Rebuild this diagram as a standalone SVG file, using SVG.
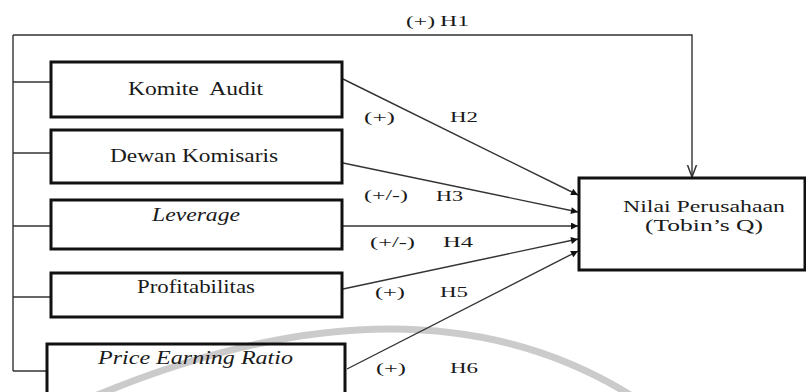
<svg xmlns="http://www.w3.org/2000/svg" width="806" height="392" viewBox="0 0 806 392">
<style>
  text { font-family: "Liberation Serif", "DejaVu Serif", "Times New Roman", serif; fill: #1a1a1a; }
  .box { fill: none; stroke: #111; stroke-width: 3; }
  .lbl { font-size: 18px; }
  .nv { font-size: 16px; }
  .h { font-size: 15px; }
  .it { font-style: italic; }
  .ln { fill: none; stroke: #333; stroke-width: 1.4; }
</style>
<defs>
  <marker id="tri" viewBox="0 0 10 10" refX="10" refY="5" markerWidth="8" markerHeight="7" markerUnits="userSpaceOnUse" orient="auto">
    <path d="M0,0 L10,5 L0,10 z" fill="#111"/>
  </marker>
  <marker id="vee" viewBox="0 0 12 10" refX="12" refY="5" markerWidth="12" markerHeight="14" markerUnits="userSpaceOnUse" orient="auto">
    <path d="M0,0.5 L12,5 L0,9.5" fill="none" stroke="#333" stroke-width="1.5"/>
  </marker>
</defs>
<path d="M 95 396 Q 417 262 632 396" fill="none" stroke="#cbcbcb" stroke-width="7"/>
<g id="connectors">
  <polyline class="ln" points="13,35 692,35 692,177" marker-end="url(#vee)"/>
  <line class="ln" x1="13" y1="35" x2="13" y2="371"/>
  <line class="ln" x1="13" y1="82" x2="51" y2="82"/>
  <line class="ln" x1="13" y1="153" x2="51" y2="153"/>
  <line class="ln" x1="13" y1="226" x2="51" y2="226"/>
  <line class="ln" x1="13" y1="297" x2="51" y2="297"/>
  <line class="ln" x1="13" y1="371" x2="47" y2="371"/>
  <line class="ln" x1="343" y1="79" x2="578" y2="195" marker-end="url(#tri)"/>
  <line class="ln" x1="343" y1="163" x2="578" y2="212" marker-end="url(#tri)"/>
  <line class="ln" x1="343" y1="226" x2="578" y2="226" marker-end="url(#tri)"/>
  <line class="ln" x1="343" y1="289" x2="578" y2="239" marker-end="url(#tri)"/>
  <line class="ln" x1="347" y1="369" x2="578" y2="251" marker-end="url(#tri)"/>
  <text class="h" x="406" y="26" textLength="29" lengthAdjust="spacingAndGlyphs">(+)</text>
  <text class="h" x="440" y="26" textLength="29" lengthAdjust="spacingAndGlyphs">H1</text>
  <text class="h" x="364" y="122" textLength="31" lengthAdjust="spacingAndGlyphs">(+)</text>
  <text class="h" x="450" y="122" textLength="28" lengthAdjust="spacingAndGlyphs">H2</text>
  <text class="h" x="364" y="200" textLength="44" lengthAdjust="spacingAndGlyphs">(+/-)</text>
  <text class="h" x="436" y="201" textLength="27" lengthAdjust="spacingAndGlyphs">H3</text>
  <text class="h" x="370" y="247" textLength="45" lengthAdjust="spacingAndGlyphs">(+/-)</text>
  <text class="h" x="443" y="247" textLength="30" lengthAdjust="spacingAndGlyphs">H4</text>
  <text class="h" x="375" y="297" textLength="30" lengthAdjust="spacingAndGlyphs">(+)</text>
  <text class="h" x="440" y="297" textLength="28" lengthAdjust="spacingAndGlyphs">H5</text>
  <text class="h" x="376" y="373" textLength="30" lengthAdjust="spacingAndGlyphs">(+)</text>
  <text class="h" x="450" y="373" textLength="28" lengthAdjust="spacingAndGlyphs">H6</text>
</g>
<g id="komite-audit">
  <rect class="box" x="51" y="62" width="291" height="55"/>
  <text class="lbl" x="128" y="95" textLength="135" lengthAdjust="spacingAndGlyphs" xml:space="preserve">Komite  Audit</text>
</g>
<g id="dewan-komisaris">
  <rect class="box" x="51" y="130" width="291" height="53"/>
  <text class="lbl" x="110" y="162" textLength="168" lengthAdjust="spacingAndGlyphs">Dewan Komisaris</text>
</g>
<g id="leverage">
  <rect class="box" x="51" y="200" width="291" height="49"/>
  <text class="lbl it" x="152" y="221" textLength="88" lengthAdjust="spacingAndGlyphs">Leverage</text>
</g>
<g id="profitabilitas">
  <rect class="box" x="51" y="273" width="291" height="44"/>
  <text class="lbl" x="137" y="293" textLength="118" lengthAdjust="spacingAndGlyphs">Profitabilitas</text>
</g>
<g id="price-earning-ratio">
  <rect class="box" x="47" y="344" width="298" height="60"/>
  <text class="lbl it" x="98" y="364" textLength="195" lengthAdjust="spacingAndGlyphs">Price Earning Ratio</text>
</g>
<g id="nilai-perusahaan">
  <rect class="box" x="579" y="178" width="226" height="92" stroke-width="2.5"/>
  <text class="nv" x="623" y="212" textLength="162" lengthAdjust="spacingAndGlyphs">Nilai Perusahaan</text>
  <text class="nv" x="645" y="231" textLength="118" lengthAdjust="spacingAndGlyphs">(Tobin’s Q)</text>
</g>
</svg>
